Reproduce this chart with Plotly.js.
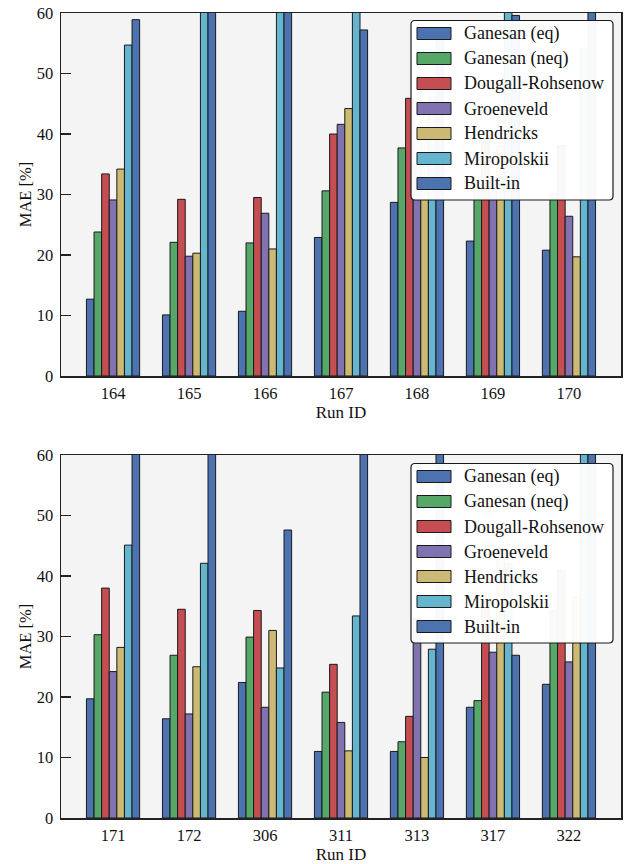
<!DOCTYPE html>
<html>
<head>
<meta charset="utf-8">
<script src="https://cdn.plot.ly/plotly-3.0.1.min.js"></script>
<style>html,body{margin:0;padding:0;background:#fff;}#chart{width:625px;height:864px;}</style>
</head>
<body>
<div id="chart"></div>
<script>
// Series names (legend) and colours
const seriesNames = ["Ganesan (eq)", "Ganesan (neq)", "Dougall-Rohsenow", "Groeneveld", "Hendricks", "Miropolskii", "Built-in"];
const seriesColors = ["#4C72B0", "#55A868", "#C44E52", "#8172B2", "#CCB974", "#64B5CD", "#4C72B0"];

// Top panel run IDs
const runsTop = ["164", "165", "166", "167", "168", "169", "170"];
// Bottom panel run IDs
const runsBottom = ["171", "172", "306", "311", "313", "317", "322"];

// MAE [%] per model, top panel (values above 60 are clipped in the figure)
const ganesanEqTop   = [12.7, 10.1, 10.7, 22.9, 28.7, 22.3, 20.8];
const ganesanNeqTop  = [23.8, 22.1, 22.0, 30.6, 37.7, 32.0, 30.2];
const dougallTop     = [33.4, 29.2, 29.5, 40.0, 45.9, 39.0, 38.1];
const groeneveldTop  = [29.1, 19.8, 26.9, 41.6, 35.0, 33.0, 26.4];
const hendricksTop   = [34.2, 20.3, 21.0, 44.2, 42.3, 38.0, 19.7];
const miropolskiiTop = [54.7, 66.0, 68.0, 64.0, 46.1, 62.0, 54.0];
const builtinTop     = [58.9, 70.0, 72.0, 57.2, 55.5, 59.6, 65.0];

// MAE [%] per model, bottom panel
const ganesanEqBot   = [19.7, 16.4, 22.4, 11.0, 11.0, 18.3, 22.1];
const ganesanNeqBot  = [30.3, 26.9, 29.9, 20.8, 12.6, 19.4, 34.3];
const dougallBot     = [38.0, 34.5, 34.3, 25.4, 16.8, 36.0, 40.9];
const groeneveldBot  = [24.2, 17.2, 18.3, 15.8, 33.0, 27.4, 25.8];
const hendricksBot   = [28.2, 25.0, 31.0, 11.1, 10.0, 43.1, 36.5];
const miropolskiiBot = [45.1, 42.1, 24.8, 33.4, 27.9, 42.0, 64.0];
const builtinBot     = [68.0, 70.0, 47.6, 66.0, 64.0, 26.9, 68.0];

const topSeries = [ganesanEqTop, ganesanNeqTop, dougallTop, groeneveldTop, hendricksTop, miropolskiiTop, builtinTop];
const botSeries = [ganesanEqBot, ganesanNeqBot, dougallBot, groeneveldBot, hendricksBot, miropolskiiBot, builtinBot];

const FONT = "Liberation Serif, Times New Roman, serif";
const W = 625, H = 864, ML = 61, MR = 4, MT = 13, MB = 46;
const PW = W - ML - MR, PH = H - MT - MB;
const px = v => (v - ML) / PW;            // pixel x -> paper x
const py = v => (H - MB - v) / PH;        // pixel y -> paper y

const traces = [];
topSeries.forEach((vals, i) => {
  traces.push({
    type: "bar", name: seriesNames[i], x: runsTop, y: vals,
    xaxis: "x", yaxis: "y", showlegend: false,
    marker: {color: seriesColors[i], line: {color: "#1a1a1a", width: 1}}
  });
});
botSeries.forEach((vals, i) => {
  traces.push({
    type: "bar", name: seriesNames[i], x: runsBottom, y: vals,
    xaxis: "x2", yaxis: "y2", showlegend: false,
    marker: {color: seriesColors[i], line: {color: "#1a1a1a", width: 1}}
  });
});

// Legend boxes drawn as shapes + annotations (wide matplotlib-style swatches)
const shapes = [], annotations = [];
function roundedRect(x0, y0, x1, y1, r) {
  const P = (x, y) => px(x) + "," + py(y);
  return "M" + P(x0 + r, y0) + " L" + P(x1 - r, y0) + " Q" + P(x1, y0) + " " + P(x1, y0 + r) +
         " L" + P(x1, y1 - r) + " Q" + P(x1, y1) + " " + P(x1 - r, y1) +
         " L" + P(x0 + r, y1) + " Q" + P(x0, y1) + " " + P(x0, y1 - r) +
         " L" + P(x0, y0 + r) + " Q" + P(x0, y0) + " " + P(x0 + r, y0) + " Z";
}
function addLegend(boxTop) {
  const boxL = 411, boxR = 613, boxB = boxTop + 179.5;
  shapes.push({type: "path", xref: "paper", yref: "paper", path: roundedRect(boxL, boxTop, boxR, boxB, 4),
    fillcolor: "rgba(255,255,255,0.96)", line: {color: "#1a1a1a", width: 1.2}, layer: "above"});
  seriesNames.forEach((name, i) => {
    const cy = boxTop + 13 + i * 25;
    shapes.push({type: "rect", xref: "paper", yref: "paper",
      x0: px(417), x1: px(451), y0: py(cy - 6), y1: py(cy + 6),
      fillcolor: seriesColors[i], line: {color: "#1a1a1a", width: 1}, layer: "above"});
    annotations.push({xref: "paper", yref: "paper", x: px(462), y: py(cy), xanchor: "left", yanchor: "middle",
      text: name, showarrow: false, font: {family: FONT, size: 18, color: "#111"}});
  });
}
addLegend(20.5);
addLegend(463.5);

const xCommon = {
  type: "category", range: [-0.685, 6.685], ticks: "", showline: true, mirror: true,
  linecolor: "#222", linewidth: 1.5, showgrid: false, zeroline: false,
  tickfont: {family: FONT, size: 16.5, color: "#111"}, ticklabelstandoff: 2,
  title: {text: "Run ID", font: {family: FONT, size: 17, color: "#111"}, standoff: 3}
};
const yCommon = {
  range: [0, 60], tick0: 0, dtick: 10, ticks: "inside", ticklen: 10, tickwidth: 1.5,
  tickcolor: "#222", showline: true, mirror: true, linecolor: "#222", linewidth: 1.5,
  showgrid: false, zeroline: false, ticklabelstandoff: 3,
  tickfont: {family: FONT, size: 16.5, color: "#111"},
  title: {text: "MAE [%]", font: {family: FONT, size: 16.5, color: "#111"}, standoff: 1}
};

const layout = {
  width: W, height: H,
  margin: {l: ML, r: MR, t: MT, b: MB},
  paper_bgcolor: "#ffffff", plot_bgcolor: "#f4f4f4",
  barmode: "group", bargap: 0.3, bargroupgap: 0,
  showlegend: false,
  xaxis: Object.assign({}, xCommon, {anchor: "y", domain: [0, 1]}),
  yaxis: Object.assign({}, yCommon, {anchor: "x", domain: [py(376), 1]}),
  xaxis2: Object.assign({}, xCommon, {anchor: "y2", domain: [0, 1]}),
  yaxis2: Object.assign({}, yCommon, {anchor: "x2", domain: [0, py(455)]}),
  shapes: shapes,
  annotations: annotations
};

Plotly.newPlot("chart", traces, layout, {displayModeBar: false, staticPlot: true});
</script>
</body>
</html>
